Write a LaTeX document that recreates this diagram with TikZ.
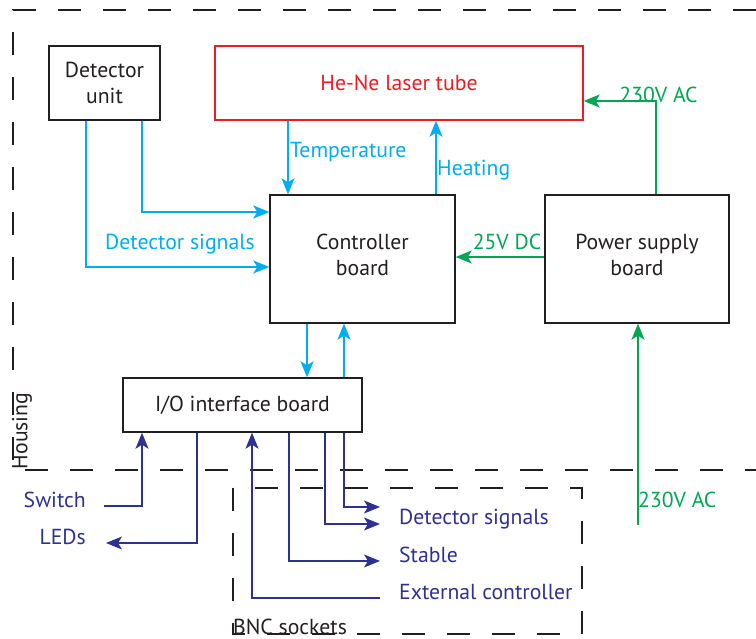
\documentclass[tikz,border=0pt]{standalone}
\usepackage{fontspec}
\setmainfont{PT Sans}
\usepackage{tikz}
\usetikzlibrary{arrows.meta}
\definecolor{ink}{RGB}{35,31,32}
\definecolor{sigcyan}{RGB}{0,174,239}
\definecolor{laserred}{RGB}{237,28,36}
\definecolor{powgreen}{RGB}{0,166,81}
\definecolor{ionavy}{RGB}{46,49,146}

\begin{document}
\begin{tikzpicture}[x=1pt,y=-1pt,every node/.style={inner sep=0pt},font=\fontsize{21.7}{26}\selectfont,
  box/.style={draw=ink,line width=1.4pt,align=center,text=ink},
  wire/.style={line width=1.5pt,-{Stealth[length=16pt,width=13pt,inset=4pt]}},
  border/.style={draw=ink,line width=1.6pt,dash pattern=on 23pt off 22pt}]
  \useasboundingbox (0,0) rectangle (756,639);
  \draw[border] (756,10) -- (13,10) -- (13,470) -- (756,470);
  \draw[border] (233,488) rectangle (582,634);
  \node[rotate=90,text=ink] (housing) at (22,431) {Housing};
  \node[anchor=base west,text=ink] (bnc) at (233,634) {BNC sockets};

  \node[box,minimum width=111pt,minimum height=74pt] (det) at (104.5,83) {Detector\\unit};
  \node[box,draw=laserred,text=laserred,minimum width=368pt,minimum height=74pt] (laser) at (399,83) {He-Ne laser tube};
  \node[box,text depth=8pt,minimum width=185pt,minimum height=128pt] (ctrl) at (362.5,259) {Controller\\board};
  \node[box,text depth=8pt,minimum width=184pt,minimum height=128pt] (psu) at (637,259) {Power supply\\board};
  \node[box,minimum width=239pt,minimum height=54pt] (io) at (242.5,405) {I/O interface board};

  \draw[wire,sigcyan] ([xshift=37.5pt]det.south) |- ([yshift=47pt]ctrl.west);
  \draw[wire,sigcyan] ([xshift=-18.5pt]det.south) |- ([yshift=-8pt]ctrl.west);
  \draw[wire,sigcyan] ([xshift=-111pt]laser.south) -- ([xshift=-111pt]laser.south |- ctrl.north);
  \draw[wire,sigcyan] ([xshift=73.5pt]ctrl.north) -- ([xshift=73.5pt]ctrl.north |- laser.south);
  \draw[wire,sigcyan] ([xshift=-55.5pt]ctrl.south) -- ([xshift=-55.5pt]ctrl.south |- io.north);
  \draw[wire,sigcyan] ([xshift=-18.5pt]ctrl.south |- io.north) -- ([xshift=-18.5pt]ctrl.south);
  \node[anchor=west,text=sigcyan] (temp) at (290,152) {Temperature};
  \node[anchor=west,text=sigcyan] (heat) at (437,170) {Heating};
  \node[text=sigcyan] (dsig) at (180,244) {Detector signals};

  \draw[wire,powgreen] ([yshift=2pt]psu.west) -- ([yshift=2pt]psu.west -| ctrl.east);
  \draw[wire,powgreen] ([xshift=19pt]psu.north) |- ([yshift=-18pt]laser.east);
  \coordinate (mains) at (638,525);
  \draw[wire,powgreen] (mains) -- (mains |- psu.south);
  \node[text=powgreen] (dc) at (507,242) {25V DC};
  \node[text=powgreen] (actop) at (658.5,95) {230V AC};
  \node[anchor=west,text=powgreen] (acbot) at (638,500) {230V AC};

  \coordinate (sw) at (104,506);
  \coordinate (leds) at (106,543);
  \coordinate (ext) at (380,598);
  \coordinate (stb) at (380,561);
  \coordinate (dsa) at (380,524);
  \coordinate (dsb) at (380,507);
  \draw[wire,ionavy] (sw) -| ([xshift=-100.5pt]io.south);
  \draw[wire,ionavy] ([xshift=-45.5pt]io.south) |- (leds);
  \draw[wire,ionavy] (ext) -| ([xshift=9.5pt]io.south);
  \draw[wire,ionavy] ([xshift=46.5pt]io.south) |- (stb);
  \draw[wire,ionavy] ([xshift=82.5pt]io.south) |- (dsa);
  \draw[wire,ionavy] ([xshift=101.5pt]io.south) |- (dsb);
  \node[anchor=east,text=ionavy] (swl) at (86,500) {Switch};
  \node[anchor=east,text=ionavy] (ledl) at (86,537) {LEDs};
  \node[anchor=west,text=ionavy] (dsl) at (399,519) {Detector signals};
  \node[anchor=west,text=ionavy] (stl) at (399,555) {Stable};
  \node[anchor=west,text=ionavy] (extl) at (399,592) {External controller};
\end{tikzpicture}
\end{document}
